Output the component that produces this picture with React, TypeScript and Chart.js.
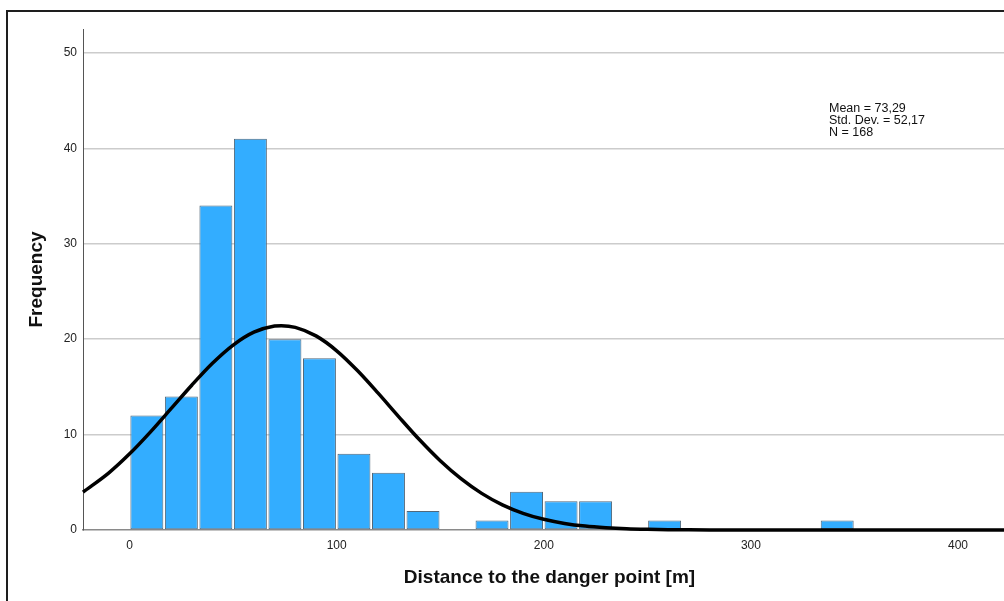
import React, { useEffect, useRef } from "react";
import { Chart, registerables } from "chart.js";

Chart.register(...registerables);

// Histogram bins (bin width 16.67 m) and counts
const binCenters = [8.33, 25, 41.67, 58.33, 75, 91.67, 108.33, 125, 141.67, 158.33, 175, 191.67, 208.33, 225, 241.67, 258.33, 275, 291.67, 308.33, 325, 341.67];
const frequencies = [12, 14, 34, 41, 20, 18, 8, 6, 2, 0, 1, 4, 3, 3, 0, 1, 0, 0, 0, 0, 1];

// Fitted normal curve
const curveX = [-22.5, -10, 0, 10, 20, 30, 40, 50, 60, 70, 73.3, 80, 90, 100, 110, 120, 130, 140, 150, 160, 170, 180, 190, 200, 210, 220, 230, 240, 250, 260, 270, 280, 300, 350, 428];
const curveY = [3.97, 5.99, 7.98, 10.26, 12.71, 15.17, 17.47, 19.38, 20.73, 21.37, 21.41, 21.23, 20.34, 18.78, 16.71, 14.34, 11.86, 9.45, 7.26, 5.38, 3.84, 2.64, 1.75, 1.12, 0.69, 0.41, 0.24, 0.13, 0.07, 0.035, 0.017, 0.008, 0.0015, 0, 0];

const xTicks = [0, 100, 200, 300, 400];
const yTicks = [0, 10, 20, 30, 40, 50];
const statsLines = ["Mean = 73,29", "Std. Dev. = 52,17", "N = 168"];

const xTitle = "Distance to the danger point [m]";
const yTitle = "Frequency";

const FONT = "'Liberation Sans', Arial, sans-serif";

const framePlugin = {
  id: "frameAndStats",
  beforeDraw(chart: any) {
    const ctx = chart.ctx;
    ctx.save();
    ctx.fillStyle = "#ffffff";
    ctx.fillRect(0, 0, chart.width, chart.height);
    ctx.restore();
  },
  afterDraw(chart: any) {
    const ctx = chart.ctx;
    ctx.save();
    ctx.strokeStyle = "#1e1e1e";
    ctx.lineWidth = 2;
    ctx.beginPath();
    ctx.moveTo(7, chart.height + 2);
    ctx.lineTo(7, 11);
    ctx.lineTo(chart.width + 2, 11);
    ctx.stroke();

    ctx.fillStyle = "#111111";
    ctx.font = `12.5px ${FONT}`;
    ctx.textAlign = "left";
    ctx.textBaseline = "alphabetic";
    statsLines.forEach((t, i) => {
      ctx.fillText(t, 829, 112.3 + i * 11.7);
    });
    ctx.restore();
  },
};

export default function App() {
  const ref = useRef<HTMLCanvasElement | null>(null);

  useEffect(() => {
    if (!ref.current) return;
    const chart = new Chart(ref.current, {
      type: "bar",
      data: {
        datasets: [
          {
            type: "line",
            data: curveX.map((x, i) => ({ x, y: curveY[i] })),
            borderColor: "#000000",
            borderWidth: 3.5,
            pointRadius: 0,
            cubicInterpolationMode: "monotone",
            fill: false,
            clip: false,
            order: 0,
          } as any,
          {
            type: "bar",
            data: binCenters.map((x, i) => ({ x, y: frequencies[i] })),
            backgroundColor: "#33adff",
            borderColor: "#52687a",
            borderWidth: 1,
            borderSkipped: false,
            categoryPercentage: 1,
            barPercentage: 0.955,
            grouped: false,
            order: 1,
          } as any,
        ],
      },
      options: {
        responsive: false,
        animation: false,
        events: [],
        layout: { padding: { left: 0, right: 0, top: 29, bottom: 0 } },
        plugins: {
          legend: { display: false },
          tooltip: { enabled: false },
        },
        scales: {
          x: {
            type: "linear",
            min: -22.5,
            max: 428,
            offset: false,
            afterBuildTicks: (scale: any) => {
              scale.ticks = xTicks.map((v) => ({ value: v }));
            },
            afterFit: (scale: any) => {
              scale.height = 71;
            },
            grid: { display: false, drawTicks: false },
            border: { display: true, color: "#8a8a8a", width: 1.5 },
            ticks: {
              padding: 8,
              color: "#222222",
              font: { family: FONT, size: 12 },
              maxRotation: 0,
              autoSkip: false,
            },
            title: {
              display: true,
              text: xTitle,
              color: "#111111",
              font: { family: FONT, size: 19, weight: "bold" },
              padding: { top: 0, bottom: 12.2 },
            },
          },
          y: {
            type: "linear",
            min: 0,
            max: 52.5,
            afterBuildTicks: (scale: any) => {
              scale.ticks = yTicks.map((v) => ({ value: v }));
            },
            afterFit: (scale: any) => {
              scale.width = 83;
            },
            grid: {
              display: true,
              drawTicks: false,
              color: (c: any) => (c.tick && c.tick.value === 0 ? "rgba(0,0,0,0)" : "#cccccc"),
              lineWidth: 1.5,
            },
            border: { display: true, color: "#555555", width: 1 },
            ticks: {
              padding: 6,
              color: "#222222",
              font: { family: FONT, size: 12 },
              autoSkip: false,
            },
            title: {
              display: true,
              text: yTitle,
              color: "#111111",
              font: { family: FONT, size: 19, weight: "bold" },
              padding: { top: 25.6, bottom: 0 },
            },
          },
        },
      },
      plugins: [framePlugin],
    } as any);
    return () => chart.destroy();
  }, []);

  return (
    <div style={{ position: "absolute", left: 0, top: 0, width: 1004, height: 601, overflow: "hidden", background: "#fff" }}>
      <canvas ref={ref} width={1016} height={601} style={{ display: "block", width: 1016, height: 601 }} />
    </div>
  );
}
